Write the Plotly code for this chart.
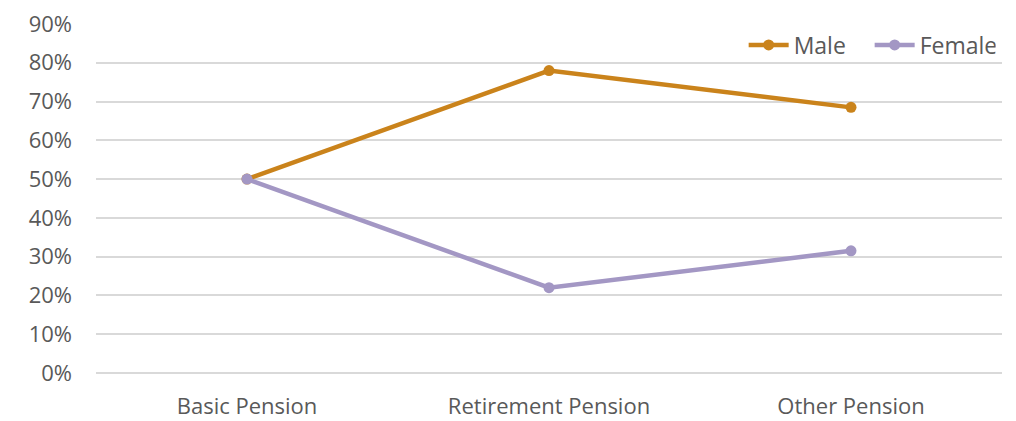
import plotly.graph_objects as go

categories = ["Basic Pension", "Retirement Pension", "Other Pension"]
male = [0.50, 0.78, 0.685]
female = [0.50, 0.22, 0.315]
tick_vals = [0, 0.1, 0.2, 0.3, 0.4, 0.5, 0.6, 0.7, 0.8, 0.9]
tick_text = ["0%", "10%", "20%", "30%", "40%", "50%", "60%", "70%", "80%", "90%"]

MALE_C = "#CA831B"
FEMALE_C = "#A397C4"
FONT = "Open Sans, sans-serif"

fig = go.Figure()
fig.add_trace(go.Scatter(x=categories, y=male, name="Male", mode="lines+markers",
                         line=dict(color=MALE_C, width=4.5), marker=dict(size=11, color=MALE_C)))
fig.add_trace(go.Scatter(x=categories, y=female, name="Female", mode="lines+markers",
                         line=dict(color=FEMALE_C, width=4.5), marker=dict(size=11, color=FEMALE_C)))

fig.update_layout(
    width=1008, height=413,
    margin=dict(l=88, r=14, t=16, b=48, autoexpand=False),
    plot_bgcolor="white", paper_bgcolor="white",
    font=dict(family=FONT, size=22, color="#595959"),
    legend=dict(orientation="h", x=0.993, xanchor="right", y=0.94, yanchor="middle",
                bgcolor="rgba(0,0,0,0)", font=dict(size=23, color="#595959"),
                itemwidth=40, tracegroupgap=0, entrywidth=71, entrywidthmode="pixels"),
    showlegend=True,
)
fig.update_xaxes(range=[-0.5, 2.5], showgrid=False, showline=False, zeroline=False,
                 ticks="", ticklabelstandoff=18, automargin=False)
fig.update_yaxes(range=[0, 0.9], tickvals=tick_vals, ticktext=tick_text,
                 showgrid=True, gridcolor="#D9D9D9", gridwidth=1.5,
                 zeroline=True, zerolinecolor="#D9D9D9", zerolinewidth=1.5,
                 ticks="", ticklabelstandoff=23, showline=False, automargin=False,
                 ticklabeloverflow="allow")

fig.write_html("out.html")
